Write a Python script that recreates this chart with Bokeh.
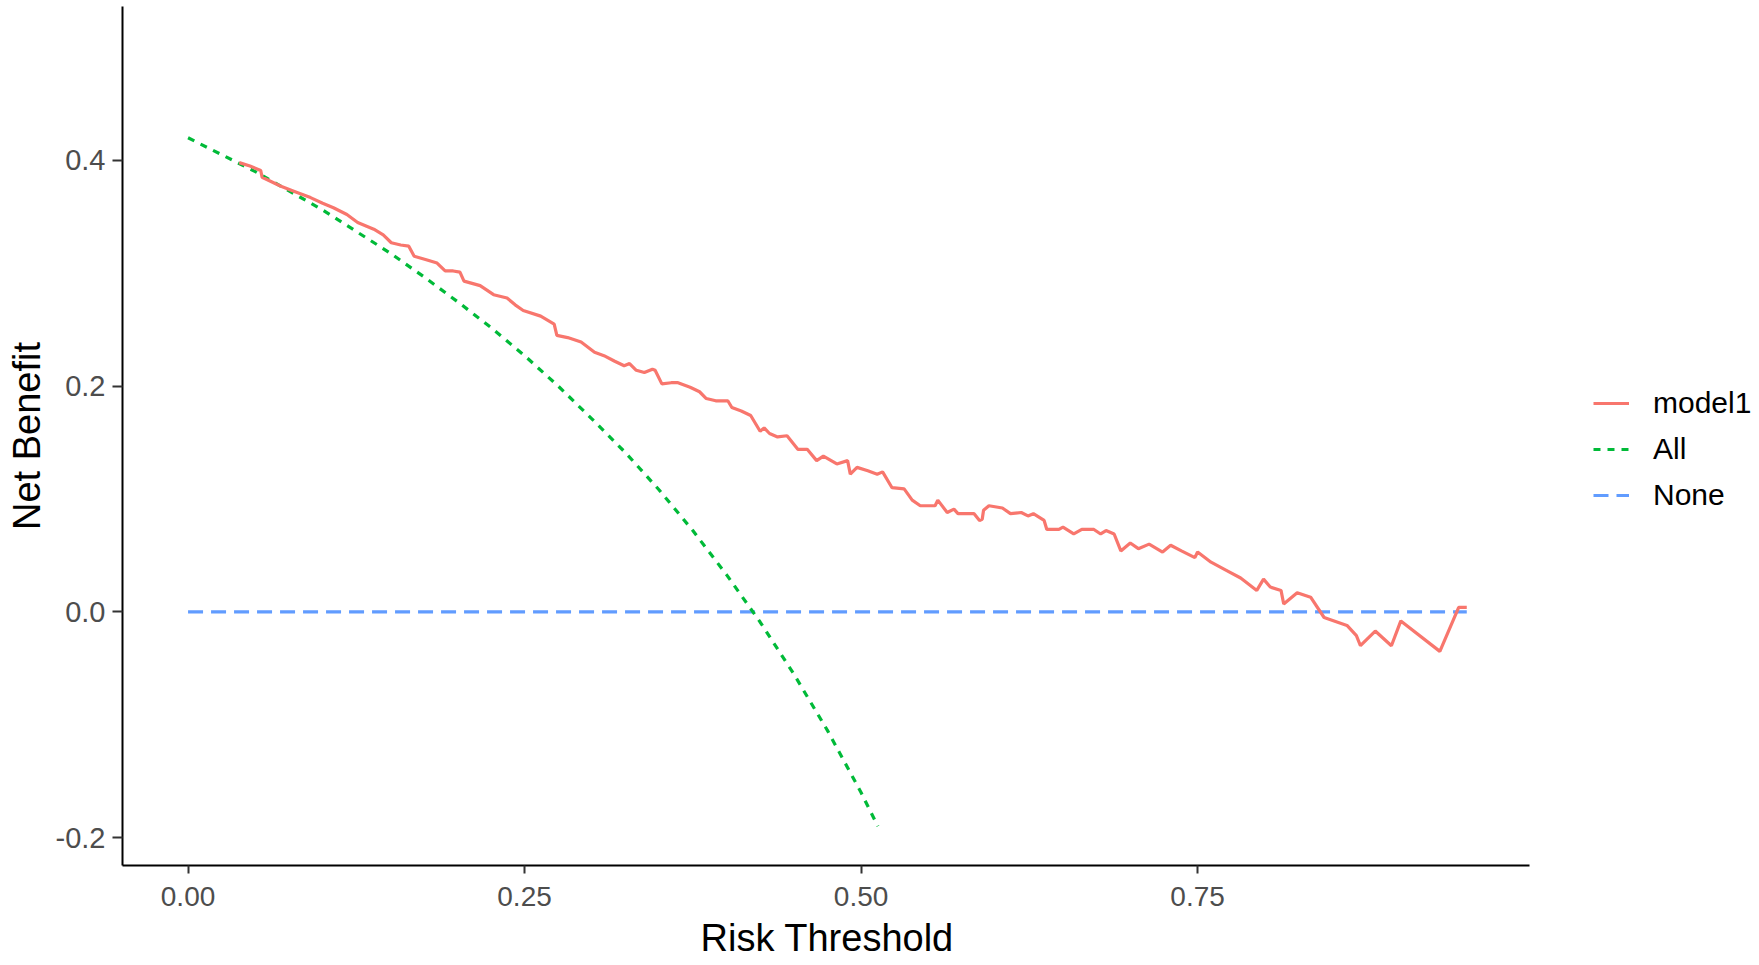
from bokeh.plotting import figure
from bokeh.models import Range1d, Legend, LegendItem, FixedTicker, Title
from bokeh.embed import file_html
from bokeh.resources import INLINE

# ---------------- data ----------------
x_ticks = [0.0, 0.25, 0.5, 0.75]
x_tick_labels = ["0.00", "0.25", "0.50", "0.75"]
y_ticks = [-0.2, 0.0, 0.2, 0.4]
y_tick_labels = ["-0.2", "0.0", "0.2", "0.4"]

series_names = ["model1", "All", "None"]
series_colors = ["#F8766D", "#00BA38", "#619CFF"]

model1_threshold = [
    0.038, 0.046, 0.054, 0.055, 0.069, 0.080, 0.091, 0.100, 0.108, 0.118,
    0.126, 0.138, 0.145, 0.151, 0.158, 0.164, 0.168, 0.177, 0.185, 0.191,
    0.197, 0.202, 0.205, 0.217, 0.227, 0.237, 0.243, 0.249, 0.262, 0.272,
    0.274, 0.282, 0.292, 0.302, 0.309, 0.317, 0.324, 0.328, 0.333, 0.339,
    0.345, 0.347, 0.352, 0.359, 0.364, 0.373, 0.380, 0.385, 0.392, 0.401,
    0.404, 0.411, 0.418, 0.425, 0.428, 0.432, 0.438, 0.445, 0.453, 0.460,
    0.467, 0.472, 0.482, 0.490, 0.492, 0.497, 0.505, 0.512, 0.516, 0.523,
    0.532, 0.538, 0.544, 0.555, 0.557, 0.564, 0.569, 0.572, 0.584, 0.588,
    0.590, 0.591, 0.595, 0.605, 0.611, 0.619, 0.624, 0.628, 0.636, 0.638,
    0.647, 0.650, 0.658, 0.664, 0.673, 0.678, 0.682, 0.688, 0.693, 0.700,
    0.706, 0.714, 0.724, 0.730, 0.738, 0.748, 0.750, 0.760, 0.771, 0.782,
    0.794, 0.799, 0.804, 0.812, 0.814, 0.824, 0.834, 0.844, 0.861, 0.868,
    0.871, 0.882, 0.894, 0.901, 0.930, 0.944, 0.950,
]
model1_net_benefit = [
    0.398, 0.395, 0.391, 0.385, 0.377, 0.372, 0.367, 0.362, 0.358, 0.352,
    0.345, 0.339, 0.334, 0.327, 0.325, 0.324, 0.315, 0.312, 0.309, 0.302,
    0.302, 0.301, 0.293, 0.289, 0.281, 0.278, 0.272, 0.267, 0.262, 0.255,
    0.245, 0.243, 0.239, 0.230, 0.227, 0.222, 0.218, 0.220, 0.214, 0.212,
    0.215, 0.214, 0.202, 0.203, 0.203, 0.199, 0.195, 0.189, 0.187, 0.187,
    0.181, 0.178, 0.174, 0.160, 0.163, 0.158, 0.155, 0.156, 0.144, 0.144,
    0.134, 0.138, 0.131, 0.134, 0.122, 0.128, 0.125, 0.122, 0.124, 0.110,
    0.109, 0.099, 0.094, 0.094, 0.099, 0.088, 0.091, 0.087, 0.087, 0.081,
    0.082, 0.090, 0.094, 0.092, 0.087, 0.088, 0.085, 0.087, 0.081, 0.073,
    0.073, 0.075, 0.069, 0.073, 0.073, 0.069, 0.072, 0.069, 0.054, 0.061,
    0.056, 0.060, 0.053, 0.059, 0.054, 0.048, 0.053, 0.044, 0.037, 0.030,
    0.019, 0.029, 0.022, 0.019, 0.007, 0.017, 0.013, -0.005, -0.012, -0.021,
    -0.030, -0.017, -0.030, -0.008, -0.035, 0.004, 0.004,
]

all_threshold = [
    0.0, 0.025, 0.05, 0.075, 0.1, 0.125, 0.15, 0.175, 0.2, 0.225, 0.25,
    0.275, 0.3, 0.325, 0.35, 0.375, 0.4, 0.425, 0.45, 0.475, 0.5, 0.5125,
]
all_net_benefit = [
    0.420, 0.405, 0.390, 0.373, 0.356, 0.337, 0.318, 0.297, 0.275, 0.252,
    0.227, 0.200, 0.171, 0.141, 0.108, 0.072, 0.033, -0.009, -0.055, -0.105,
    -0.160, -0.190,
]

none_threshold = [0.0, 0.95]
none_net_benefit = [0.0, 0.0]

x_title = "Risk Threshold"
y_title = "Net Benefit"

# ---------------- figure ----------------
FONT = "Liberation Sans"
X_AXIS_START, X_AXIS_END = -0.0487, 0.9967

p = figure(
    width=1755, height=965,
    # frame runs to the right edge so the legend can sit inside it;
    # the x axis line itself is bounded to the plotted interval
    x_range=Range1d(X_AXIS_START, 1.1645),
    y_range=Range1d(-0.2247, 0.5363),
    output_backend="svg", toolbar_location=None,
    min_border_left=122, min_border_right=0,
    min_border_top=6, min_border_bottom=100,
)
p.background_fill_color = "white"
p.border_fill_color = "white"
p.outline_line_color = None
p.xgrid.grid_line_color = None
p.ygrid.grid_line_color = None

r_none = p.line(none_threshold, none_net_benefit, line_color=series_colors[2],
                line_width=3.2, line_dash="15 8")
r_all = p.line(all_threshold, all_net_benefit, line_color=series_colors[1],
               line_width=3.2, line_dash="7 7")
r_model = p.line(model1_threshold, model1_net_benefit, line_color=series_colors[0],
                 line_width=3.2)

for ax, ticks, labels in ((p.xaxis[0], x_ticks, x_tick_labels),
                          (p.yaxis[0], y_ticks, y_tick_labels)):
    ax.ticker = FixedTicker(ticks=ticks)
    ax.major_label_overrides = {t: l for t, l in zip(ticks, labels)}
    ax.minor_tick_line_color = None
    ax.axis_line_color = "black"
    ax.axis_line_width = 2
    ax.major_tick_line_color = "#333333"
    ax.major_tick_line_width = 2
    ax.major_tick_in = 0
    ax.major_label_text_font = FONT
    ax.major_label_text_color = "#4D4D4D"
    ax.axis_label_text_font = FONT
    ax.axis_label_text_font_size = "38px"
    ax.axis_label_text_font_style = "normal"
    ax.axis_label_text_color = "black"

p.xaxis[0].major_label_text_font_size = "28px"
p.yaxis[0].major_label_text_font_size = "29px"
p.xaxis[0].bounds = (X_AXIS_START, X_AXIS_END)
p.yaxis[0].axis_label = y_title
p.xaxis[0].major_tick_out = 8
p.yaxis[0].major_tick_out = 10
p.xaxis[0].major_label_standoff = 13
p.yaxis[0].major_label_standoff = 7
p.yaxis[0].axis_label_standoff = 5

# x-axis title, centred under the axis line (not under the wider frame)
p.add_layout(Title(text=x_title, align="left", offset=578, standoff=12,
                   text_font=FONT, text_font_size="38px",
                   text_font_style="normal", text_color="black"), "below")

legend = Legend(
    items=[
        LegendItem(label=series_names[0], renderers=[r_model]),
        LegendItem(label=series_names[1], renderers=[r_all]),
        LegendItem(label=series_names[2], renderers=[r_none]),
    ],
    location=(1471, 350),
    orientation="vertical",
    glyph_width=36, glyph_height=40, label_height=40,
    label_standoff=24, spacing=6, padding=0, margin=0,
    label_text_font=FONT, label_text_font_size="30px", label_text_color="black",
    border_line_alpha=0, background_fill_alpha=0,
)
p.add_layout(legend)

open("out.html", "w").write(file_html(p, INLINE))
